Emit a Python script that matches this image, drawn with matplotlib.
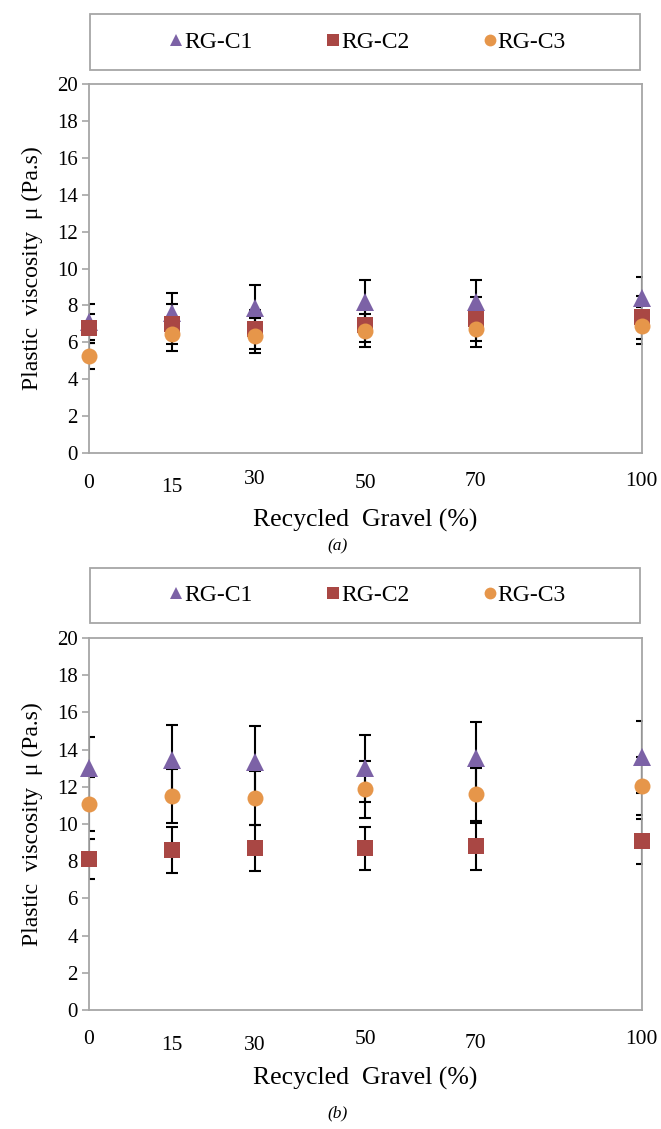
import matplotlib
matplotlib.use("Agg")
import matplotlib.pyplot as plt
from matplotlib.lines import Line2D
from matplotlib.patches import Rectangle

plt.rcParams['font.family'] = ['Liberation Serif', 'DejaVu Serif']

# recycled gravel content (%)
rg = [0, 15, 30, 50, 70, 100]
tick_labels = ['0', '15', '30', '50', '70', '100']
series_names = ['RG-C1', 'RG-C2', 'RG-C3']

# panel (a)
a_c1 = [7.1, 7.6, 7.86, 8.19, 8.19, 8.41]
a_c2 = [6.75, 7.0, 6.7, 6.95, 7.25, 7.35]
a_c3 = [5.26, 6.45, 6.35, 6.63, 6.72, 6.9]
a_c1_err = [0.97, 1.05, 1.24, 1.18, 1.18, 1.15]
a_c2_err = [0.77, 1.1, 1.04, 0.92, 1.19, 1.15]
a_c3_err = [0.7, 0.92, 0.95, 0.91, 0.95, 1.0]

# panel (b)
b_c1 = [13.0, 13.44, 13.35, 13.0, 13.54, 13.62]
b_c2 = [8.12, 8.6, 8.69, 8.69, 8.8, 9.07]
b_c3 = [11.1, 11.49, 11.4, 11.86, 11.59, 12.04]
b_c1_err = [1.7, 1.86, 1.9, 1.8, 1.93, 1.94]
b_c2_err = [1.1, 1.26, 1.24, 1.15, 1.26, 1.22]
b_c3_err = [1.45, 1.45, 1.45, 1.55, 1.44, 1.57]

colors = ['#7C62A6', '#A94744', '#E6964A']
markers = ['^', 's', 'o']
msizes = [12.5, 11.5, 11.5]

W, H = 661, 1129
fig = plt.figure(figsize=(W / 100, H / 100), dpi=100)


def px_box(left, top, right, bottom):
    return [left / W, 1 - bottom / H, (right - left) / W, (bottom - top) / H]


def panel(top, bottom, leg_top, leg_bottom, ys, errs, label_dy, xlab_y, cap_y, cap):
    ax = fig.add_axes(px_box(89, top, 641.5, bottom))
    ax.set_xlim(0, 100)
    ax.set_ylim(0, 20)
    ax.set_yticks(range(0, 21, 2))
    ax.set_xticks([])
    ax.tick_params(axis='y', direction='out', length=5, width=1.2,
                   color='#A6A6A6', labelsize=15, pad=3)
    for s in ax.spines.values():
        s.set_color('#A6A6A6')
        s.set_linewidth(1.3)

    for y, e in zip(ys, errs):
        ax.errorbar(rg, y, yerr=e, fmt='none', ecolor='black', elinewidth=1.5,
                    capsize=4.5, capthick=1.5, zorder=2)
    for y, c, m, ms in zip(ys, colors, markers, msizes):
        ax.plot(rg, y, linestyle='none', marker=m, markersize=ms, color=c,
                markeredgewidth=0, clip_on=False, zorder=3)

    # category labels sit a little off the axis, each at its own height
    for xv, lab, dy in zip(rg, tick_labels, label_dy):
        ax.annotate(lab, xy=(xv, 0), xycoords=('data', 'axes fraction'),
                    xytext=(0, -dy), textcoords='offset pixels',
                    ha='center', va='center', fontsize=15.5, annotation_clip=False)

    ax.set_ylabel('Plastic  viscosity  \u03bc (Pa.s)', fontsize=17, labelpad=10)
    fig.text(365 / W, 1 - xlab_y / H, 'Recycled  Gravel (%)', fontsize=18.5,
             ha='center', va='center')
    fig.text(338 / W, 1 - cap_y / H, cap, fontsize=12.5, style='italic',
             ha='center', va='center')

    # legend box above the plot
    fig.patches.append(Rectangle((90 / W, 1 - leg_bottom / H), (640 - 90) / W,
                                 (leg_bottom - leg_top) / H, transform=fig.transFigure,
                                 facecolor='white', edgecolor='#A6A6A6', linewidth=1.3))
    handles = [Line2D([], [], linestyle='none', marker=m, markersize=8.5, color=c,
                      markeredgewidth=0) for m, c in zip(markers, colors)]
    fig.legend(handles, series_names, loc='center',
               bbox_to_anchor=(368 / W, 1 - (leg_top + leg_bottom) / 2 / H),
               ncol=3, frameon=False, fontsize=17, handlelength=0.5,
               handletextpad=0.1, columnspacing=3.15)
    return ax


panel(84, 453, 14, 70, [a_c1, a_c2, a_c3], [a_c1_err, a_c2_err, a_c3_err],
      [30, 34, 27, 31, 29, 29], 520, 546, '(a)')
panel(638, 1010, 568, 623, [b_c1, b_c2, b_c3], [b_c1_err, b_c2_err, b_c3_err],
      [30, 35, 35, 29, 34, 30], 1078, 1113, '(b)')

fig.savefig('out.png', dpi=100)
